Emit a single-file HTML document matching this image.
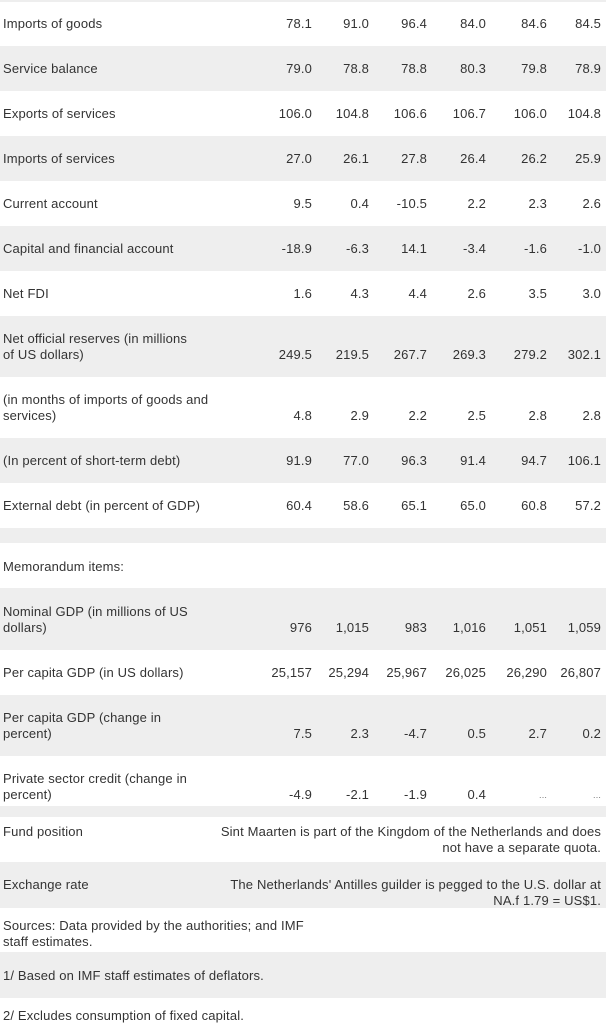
<!DOCTYPE html>
<html><head><meta charset="utf-8">
<style>
body{margin:0;width:610px;height:1024px;background:#fff;position:relative;overflow:hidden;font-family:"Liberation Sans",sans-serif;font-size:13px;letter-spacing:0.15px;color:#333;}
.row{position:absolute;left:0;width:606px;}
.g{background:#eeeeee;}
.t{position:absolute;line-height:16px;white-space:nowrap;}
.v{position:absolute;line-height:16px;text-align:right;white-space:nowrap;}
</style></head>
<body>
<div class="row g" style="top:0;height:2px;"></div>
<script>
const labels=[["Imports of goods"],["Service balance"],["Exports of services"],["Imports of services"],["Current account"],["Capital and financial account"],["Net FDI"],["Net official reserves (in millions","of US dollars)"],["(in months of imports of goods and","services)"],["(In percent of short-term debt)"],["External debt (in percent of GDP)"],[],["Memorandum items:"],["Nominal GDP (in millions of US","dollars)"],["Per capita GDP (in US dollars)"],["Per capita GDP (change in","percent)"],["Private sector credit (change in","percent)"],[],["Fund position"],["Exchange rate"],["Sources: Data provided by the authorities; and IMF","staff estimates."],["1/ Based on IMF staff estimates of deflators."],["2/ Excludes consumption of fixed capital."]];
const values=[["78.1","91.0","96.4","84.0","84.6","84.5"],["79.0","78.8","78.8","80.3","79.8","78.9"],["106.0","104.8","106.6","106.7","106.0","104.8"],["27.0","26.1","27.8","26.4","26.2","25.9"],["9.5","0.4","-10.5","2.2","2.3","2.6"],["-18.9","-6.3","14.1","-3.4","-1.6","-1.0"],["1.6","4.3","4.4","2.6","3.5","3.0"],["249.5","219.5","267.7","269.3","279.2","302.1"],["4.8","2.9","2.2","2.5","2.8","2.8"],["91.9","77.0","96.3","91.4","94.7","106.1"],["60.4","58.6","65.1","65.0","60.8","57.2"],[],[],["976","1,015","983","1,016","1,051","1,059"],["25,157","25,294","25,967","26,025","26,290","26,807"],["7.5","2.3","-4.7","0.5","2.7","0.2"],["-4.9","-2.1","-1.9","0.4","...","..."],[],[],[],[],[],[]];
const notes={18:["Sint Maarten is part of the Kingdom of the Netherlands and does","not have a separate quota."],19:["The Netherlands' Antilles guilder is pegged to the U.S. dollar at","NA.f 1.79 = US$1."]};
const rowTops=[0,46,91,136,181,226,271,316,377,438,483,528,543,588,650,695,756,806,817,862,908,952,998,1024];
const textTops=[16,61,106,151,196,241,286,331,392,453,498,0,559,604,665,710,771,0,824,877,918,968,1008];
const colRight=[312,369,427,486,547,601];
for(let i=0;i<labels.length;i++){
  const r=document.createElement('div');
  r.className='row'+(i%2===1?' g':'');
  r.style.top=rowTops[i]+'px';r.style.height=(rowTops[i+1]-rowTops[i])+'px';
  
  
  document.body.appendChild(r);
  const tt=textTops[i]-rowTops[i];
  if(labels[i].length){
    const l=document.createElement('div');l.className='t';
    l.style.left='3px';l.style.top=tt+'px';
    l.innerHTML=labels[i].join('<br>');
    
    
    r.appendChild(l);
  }
  const vt=tt+(labels[i].length-1)*16;
  values[i].forEach((v,j)=>{
    const d=document.createElement('div');d.className='v';
    d.style.right=(606-colRight[j])+'px';d.style.top=vt+'px';d.textContent=v;
    if(v==='...'){d.style.fontSize='9px';d.style.color='#777';}
    
    
    r.appendChild(d);
  });
  if(notes[i]){
    const n=document.createElement('div');n.className='v';
    n.style.right='5px';n.style.top=tt+'px';n.innerHTML=notes[i].join('<br>');
    
    
    r.appendChild(n);
  }
}
</script>
</body></html>
